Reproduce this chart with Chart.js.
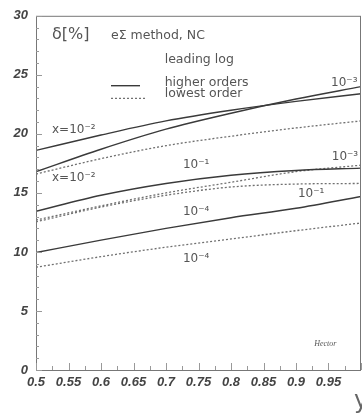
<!DOCTYPE html>
<html>
<head>
<meta charset="utf-8">
<script src="https://cdn.jsdelivr.net/npm/chart.js@4.4.1/dist/chart.umd.min.js"></script>
<style>
  html, body { margin: 0; padding: 0; background: #fff; }
  #wrap { width: 362px; height: 415px; position: relative; }
</style>
</head>
<body>
<div id="wrap"><canvas id="delta"></canvas></div>
<script>
// y (inelasticity) sampling points
const yPoints = [0.5, 0.6, 0.7, 0.8, 0.9, 1.0];

// delta [%], higher orders (solid)
const hoX1e2 = [18.6, 19.9, 21.1, 22.0, 22.75, 23.4];
const hoX1e3 = [16.8, 18.7, 20.4, 21.75, 22.95, 24.0];
const hoX1e1 = [13.45, 14.8, 15.8, 16.5, 16.9, 17.1];
const hoX1e4 = [9.95, 11.0, 12.0, 12.9, 13.7, 14.7];

// delta [%], lowest order (dotted)
const loX1e2 = [16.6, 17.9, 19.0, 19.8, 20.5, 21.1];
const loX1e3 = [12.7, 13.9, 15.0, 15.9, 16.8, 17.35];
const loX1e1 = [12.55, 13.8, 14.8, 15.5, 15.75, 15.8];
const loX1e4 = [8.7, 9.6, 10.4, 11.1, 11.8, 12.45];

const xTickValues = [0.5, 0.55, 0.6, 0.65, 0.7, 0.75, 0.8, 0.85, 0.9, 0.95];
const xTickLabels = ['0.5', '0.55', '0.6', '0.65', '0.7', '0.75', '0.8', '0.85', '0.9', '0.95'];
const yTickLabels = ['0', '5', '10', '15', '20', '25', '30'];

// curve labels: [text, x, delta]
const curveLabels = [
  ['x=10⁻²', 0.5246, 20.3],
  ['x=10⁻²', 0.5246, 16.3],
  ['10⁻¹', 0.726, 17.4],
  ['10⁻³', 0.954, 24.3],
  ['10⁻³', 0.955, 18.05],
  ['10⁻¹', 0.903, 14.9],
  ['10⁻⁴', 0.726, 13.4],
  ['10⁻⁴', 0.726, 9.45]
];

const SOLID = '#3a3a3a';
const DOTTED = '#707070';
const TEXT = '#555';

function series(vals, dotted) {
  return {
    data: yPoints.map((x, i) => ({ x, y: vals[i] })),
    borderColor: dotted ? DOTTED : SOLID,
    borderWidth: dotted ? 1.3 : 1.4,
    borderDash: dotted ? [2, 2] : [],
    pointRadius: 0,
    fill: false,
    cubicInterpolationMode: 'monotone'
  };
}

const decorations = {
  id: 'decorations',
  afterDraw(chart) {
    const { ctx, chartArea: a, scales: { x, y } } = chart;
    ctx.save();

    // frame
    ctx.strokeStyle = '#777';
    ctx.lineWidth = 1;
    ctx.strokeRect(a.left + 0.5, a.top + 0.5, a.right - a.left - 1, a.bottom - a.top);

    // inward tick marks
    ctx.strokeStyle = '#999';
    ctx.beginPath();
    for (let i = 0; i <= 20; i++) {
      const px = Math.round(x.getPixelForValue(0.5 + i * 0.025)) + 0.5;
      const len = i % 2 === 0 ? 7 : 4;
      ctx.moveTo(px, a.bottom);
      ctx.lineTo(px, a.bottom - len);
    }
    for (let v = 0; v <= 30; v++) {
      const py = Math.round(y.getPixelForValue(v)) + 0.5;
      const len = v % 5 === 0 ? 6 : 3;
      ctx.moveTo(a.left, py);
      ctx.lineTo(a.left + len, py);
    }
    ctx.stroke();

    ctx.fillStyle = TEXT;
    ctx.textBaseline = 'middle';
    ctx.textAlign = 'left';
    const at = (t, xv, yv) => ctx.fillText(t, x.getPixelForValue(xv), y.getPixelForValue(yv));

    // header
    ctx.font = '16px "DejaVu Sans"';
    at('δ[%]', 0.5246, 28.35);
    ctx.font = '12.5px "DejaVu Sans"';
    at('eΣ method, NC', 0.6154, 28.35);
    at('leading log', 0.698, 26.3);
    at('higher orders', 0.698, 24.35);
    at('lowest order', 0.698, 23.4);

    // legend samples
    ctx.lineWidth = 1.4;
    ctx.strokeStyle = SOLID;
    ctx.beginPath();
    ctx.moveTo(x.getPixelForValue(0.6154), y.getPixelForValue(24.08));
    ctx.lineTo(x.getPixelForValue(0.66), y.getPixelForValue(24.08));
    ctx.stroke();
    ctx.strokeStyle = DOTTED;
    ctx.lineWidth = 1.3;
    ctx.setLineDash([2, 2]);
    ctx.beginPath();
    ctx.moveTo(x.getPixelForValue(0.6154), y.getPixelForValue(23.0));
    ctx.lineTo(x.getPixelForValue(0.668), y.getPixelForValue(23.0));
    ctx.stroke();
    ctx.setLineDash([]);

    // curve labels
    ctx.font = '12px "DejaVu Sans"';
    curveLabels.forEach(([t, xv, yv]) => at(t, xv, yv));

    ctx.font = 'italic 8px "Liberation Serif"';
    at('Hector', 0.928, 2.25);

    // axis title, bottom right
    ctx.font = '24px "DejaVu Sans"';
    ctx.fillStyle = '#666';
    ctx.textBaseline = 'alphabetic';
    ctx.fillText('y', 354, 408);
    ctx.restore();
  }
};

const tickFont = { family: '"Liberation Sans"', size: 13, style: 'italic', weight: 'bold' };

new Chart(document.getElementById('delta'), {
  type: 'line',
  data: {
    datasets: [
      series(hoX1e2, false), series(hoX1e3, false), series(hoX1e1, false), series(hoX1e4, false),
      series(loX1e2, true), series(loX1e3, true), series(loX1e1, true), series(loX1e4, true)
    ]
  },
  options: {
    animation: false,
    responsive: true,
    maintainAspectRatio: false,
    layout: { padding: { top: 11, right: 1, left: 0, bottom: 0 } },
    plugins: { legend: { display: false }, tooltip: { enabled: false } },
    scales: {
      x: {
        type: 'linear',
        min: 0.5,
        max: 1.0,
        afterBuildTicks: s => { s.ticks = xTickValues.map(value => ({ value })); },
        afterFit: s => { s.height = 45; },
        grid: { display: false, drawTicks: false },
        border: { display: false },
        ticks: {
          padding: 5,
          color: '#444',
          font: tickFont,
          maxRotation: 0,
          autoSkip: false,
          callback: (v, i) => xTickLabels[i]
        }
      },
      y: {
        min: 0,
        max: 30,
        afterBuildTicks: s => { s.ticks = yTickLabels.map(t => ({ value: Number(t) })); },
        afterFit: s => { s.width = 36; },
        grid: { display: false, drawTicks: false },
        border: { display: false },
        ticks: {
          padding: 8,
          color: '#444',
          font: tickFont,
          callback: (v, i) => yTickLabels[i]
        }
      }
    }
  },
  plugins: [decorations]
});
</script>
</body>
</html>
